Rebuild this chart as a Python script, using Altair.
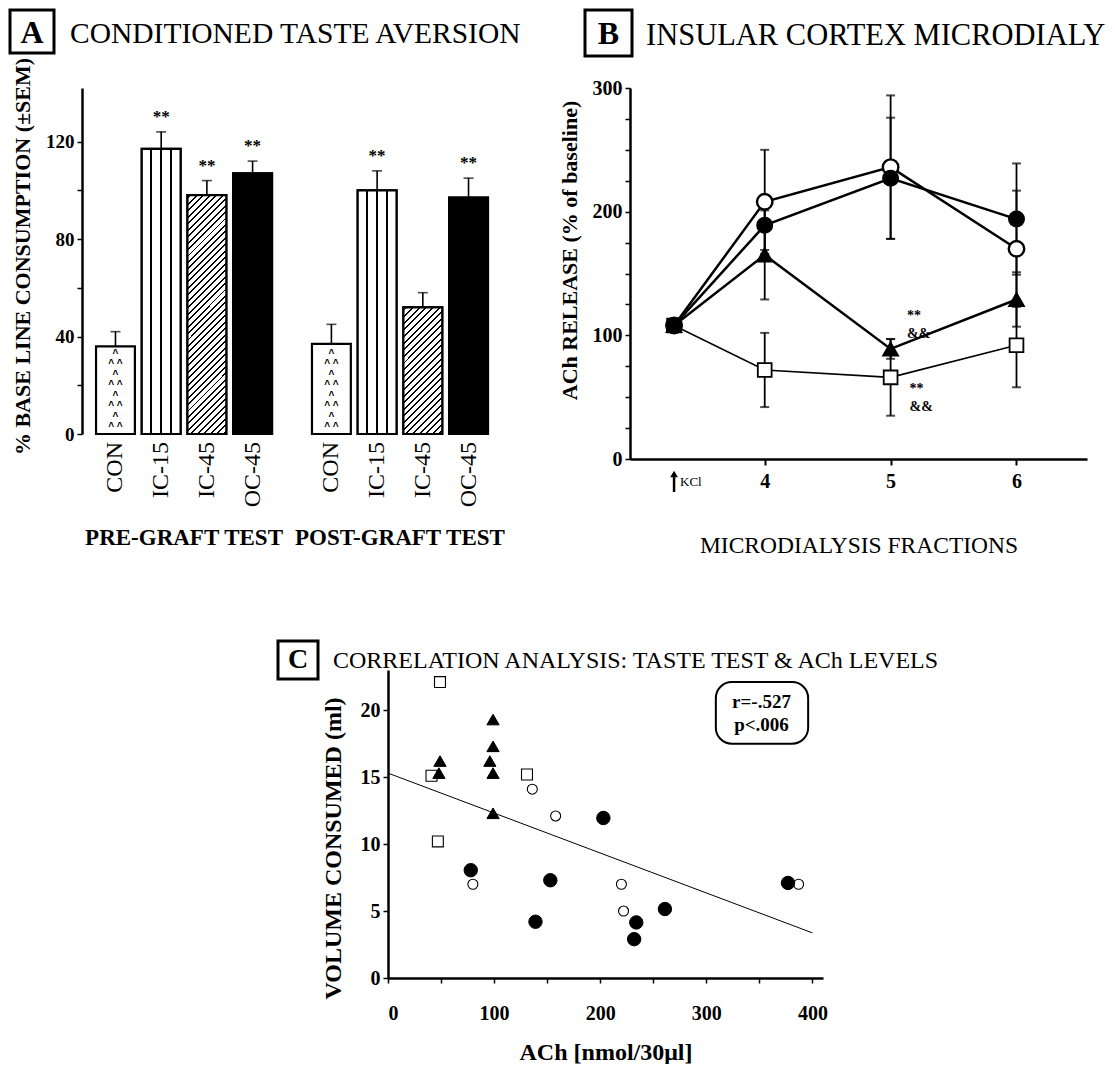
import altair as alt
import pandas as pd

SERIF = "Liberation Serif"
SANS = "Liberation Sans"

# ---------------- Panel A : conditioned taste aversion ----------------
a_tests = ["PRE-GRAFT TEST"] * 4 + ["POST-GRAFT TEST"] * 4
a_groups = ["CON", "IC-15", "IC-45", "OC-45"] * 2
a_values = [36, 117, 98, 107, 37, 100, 52, 97]
a_sem = [6, 7, 6, 5, 8, 8, 6, 8]
a_stars = ["", "**", "**", "**", "", "**", "", "**"]

# ---------------- Panel B : insular cortex microdialysis ----------------
b_fraction = [3.28, 4, 5, 6]          # first point = KCl baseline
b_open_circle = [108, 208, 236, 170]
b_open_circle_sem = [0, 42, 58, 47]
b_filled_circle = [108, 189, 227, 194]
b_filled_circle_sem = [0, 20, 49, 45]
b_triangle = [108, 165, 89, 129]
b_triangle_sem = [0, 36, 8, 22]
b_square = [108, 72, 66, 92]
b_square_sem = [0, 30, 31, 34]
b_note_x = [5.13, 5.13, 5.15, 5.15]
b_note_y = [116, 101, 57, 42]
b_note_text = ["**", "&&", "**", "&&"]

# ---------------- Panel C : correlation analysis ----------------
c_square_x = [49, 41, 47, 131]
c_square_y = [22.1, 15.1, 10.2, 15.2]
c_triangle_x = [49, 48, 99, 99, 96, 99, 99]
c_triangle_y = [16.2, 15.3, 19.3, 17.3, 16.2, 15.3, 12.3]
c_open_x = [136, 158, 80, 220, 222, 387]
c_open_y = [14.1, 12.1, 7.0, 7.0, 5.0, 7.0]
c_filled_x = [78, 203, 153, 139, 234, 232, 261, 377]
c_filled_y = [8.05, 11.95, 7.3, 4.2, 4.15, 2.9, 5.15, 7.1]
c_fit_x = [0, 400]
c_fit_y = [15.3, 3.37]
c_stats = ["r=-.527", "p<.006"]

GROUPS = ["CON", "IC-15", "IC-45", "OC-45"]
TESTS = ["PRE-GRAFT TEST", "POST-GRAFT TEST"]
one = pd.DataFrame({"k": [0]})


def box(x1, x2, y1, y2, w=3):
    return alt.Chart(one).mark_rect(filled=False, stroke="black", strokeWidth=w).encode(
        x=alt.value(x1), x2=alt.value(x2), y=alt.value(y1), y2=alt.value(y2))


def label(txt, x, y, size, weight="normal", align="left", baseline="alphabetic", limit=None):
    kw = dict(font=SERIF, fontSize=size, fontWeight=weight, align=align, baseline=baseline, color="black")
    if limit is not None:
        kw["limit"] = limit
        kw["ellipsis"] = "\u200b"
    return alt.Chart(pd.DataFrame({"t": [txt]})).mark_text(**kw).encode(
        x=alt.value(x), y=alt.value(y), text="t:N")


def vstripes(lines=(0.25, 0.5, 0.75), half=0.025):
    stops = []
    for c in lines:
        stops += [alt.GradientStop(color="white", offset=c - half),
                  alt.GradientStop(color="black", offset=c - half),
                  alt.GradientStop(color="black", offset=c + half),
                  alt.GradientStop(color="white", offset=c + half)]
    return alt.LinearGradient(gradient="linear", stops=stops, x1=0, y1=0, x2=1, y2=0)


def diag_stripes(w, h, period=6.5, frac=0.3):
    s = (w + h) * w / (w * w + h * h)
    n = max(1, int(round((w + h) / period)))
    stops = []
    for i in range(n):
        a = (i + 0.5 - frac / 2) / n
        b = (i + 0.5 + frac / 2) / n
        stops += [alt.GradientStop(color="white", offset=a),
                  alt.GradientStop(color="black", offset=a),
                  alt.GradientStop(color="black", offset=b),
                  alt.GradientStop(color="white", offset=b)]
    return alt.LinearGradient(gradient="linear", stops=stops, x1=0, y1=0, x2=s, y2=s * h / w)


# ======================= Panel A =======================
WA, HA, YMAX_A = 420, 346, 142
PX_A = HA / YMAX_A
BAR_W = 38.9

dfA = pd.DataFrame({"test": a_tests, "group": a_groups, "value": a_values,
                    "sem": a_sem, "stars": a_stars})
dfA["top"] = dfA["value"] + dfA["sem"]

xA = alt.X("test:N", sort=TESTS, scale=alt.Scale(paddingInner=0.185, paddingOuter=0.065),
           axis=alt.Axis(title=None, domain=False, ticks=False, tickSize=0, labelAngle=0,
                         labelPadding=92, labelFont=SERIF, labelFontSize=23,
                         labelFontWeight="bold", labelColor="black", labelLimit=0))
xoA = alt.XOffset("group:N", sort=GROUPS, scale=alt.Scale(paddingInner=0.15, paddingOuter=0))
yA_scale = alt.Scale(domain=[0, YMAX_A], nice=False)
yA_axis = alt.Axis(values=list(range(0, 121, 20)),
                   labelExpr="datum.value % 40 === 0 ? datum.label : ''",
                   title="% BASE LINE CONSUMPTION (±SEM)", titleFont=SERIF, titleFontSize=22,
                   titleFontWeight="bold", titlePadding=11, titleLimit=1000, titleColor="black",
                   titleY=168,
                   labelFont=SERIF, labelFontSize=19, labelFontWeight="bold",
                   labelColor="black", labelPadding=3, tickSize=5, tickWidth=1.5,
                   tickColor="black", domainColor="black", domainWidth=2.5, grid=False)


def yA(field):
    return alt.Y(field, scale=yA_scale, axis=yA_axis)


baseA = alt.Chart(dfA).encode(x=xA, xOffset=xoA)

barsA = baseA.mark_bar(fill="white", stroke="black", strokeWidth=2.2).encode(y=yA("value:Q"))
blackA = baseA.transform_filter(alt.datum.group == "OC-45").mark_bar(
    fill="black", stroke="black", strokeWidth=2.2).encode(y=yA("value:Q"))
ic15 = baseA.transform_filter(alt.datum.group == "IC-15").mark_bar(
    fill=vstripes(), stroke="black", strokeWidth=2.2).encode(y=yA("value:Q"))
layersA = [barsA, blackA, ic15]
for t, g, v in zip(a_tests, a_groups, a_values):
    if g == "IC-45":
        layersA.append(
            baseA.transform_filter((alt.datum.group == "IC-45") & (alt.datum.test == t)).mark_bar(
                fill=diag_stripes(BAR_W, v * PX_A), stroke="black", strokeWidth=2.2
            ).encode(y=yA("value:Q")))

caret_rows = []
for t, g, v in zip(a_tests, a_groups, a_values):
    if g == "CON":
        k, cy = 0, 2.8
        while cy < v - 2.5:
            caret_rows.append({"test": t, "group": g, "cy": cy,
                               "txt": "^    ^" if k % 2 == 0 else "^"})
            k += 1
            cy += 4.3
caretsA = alt.Chart(pd.DataFrame(caret_rows)).mark_text(
    font=SANS, fontSize=10, fontWeight="bold", baseline="middle", color="black").encode(
    x=xA, xOffset=xoA, y=yA("cy:Q"), text="txt:N")

rulesA = baseA.mark_rule(color="black", strokeWidth=1.6).encode(y=yA("value:Q"), y2="top:Q")
capsA = baseA.mark_tick(color="black", size=10, thickness=1.6).encode(y=yA("top:Q"))
starsA = baseA.transform_filter(alt.datum.stars != "").mark_text(
    font=SERIF, fontSize=17, fontWeight="bold", baseline="alphabetic", dy=-10, color="black").encode(
    y=yA("top:Q"), text="stars:N")
namesA = baseA.mark_text(angle=270, align="right", baseline="middle", font=SERIF,
                         fontSize=24, color="black").encode(y=alt.value(HA + 8), text="group:N")

panelA = alt.layer(
    *layersA, caretsA, rulesA, capsA, starsA, namesA,
    box(-72, -28, -78, -35),
    label("A", -50, -55, 32, "bold", "center", "middle"),
    label("CONDITIONED TASTE AVERSION", -12, -45, 29.5),
).properties(width=WA, height=HA)

# ======================= Panel B =======================
WB, HB = 457, 371
series_names = ["open circle", "filled circle", "triangle", "square"]
rows = []
for name, vals, sems in zip(series_names,
                            [b_open_circle, b_filled_circle, b_triangle, b_square],
                            [b_open_circle_sem, b_filled_circle_sem, b_triangle_sem, b_square_sem]):
    for f, v, s in zip(b_fraction, vals, sems):
        rows.append(dict(fraction=f, series=name, value=v, sem=s, lo=v - s, hi=v + s))
dfB = pd.DataFrame(rows)

xB_scale = alt.Scale(domain=[2.93, 6.56], nice=False, zero=False)
xB_axis = alt.Axis(values=[4, 5, 6], format="d", title="MICRODIALYSIS FRACTIONS",
                   titleFont=SERIF, titleFontSize=23.5, titleFontWeight="normal", titlePadding=42,
                   titleColor="black", labelFont=SERIF, labelFontSize=20, labelFontWeight="bold",
                   labelColor="black", labelPadding=6, tickSize=6, tickWidth=2, tickColor="black",
                   domainColor="black", domainWidth=2.5, grid=False)
yB_scale = alt.Scale(domain=[0, 300], nice=False)
yB_axis = alt.Axis(values=list(range(0, 301, 25)),
                   labelExpr="datum.value % 100 === 0 ? datum.label : ''",
                   title="ACh RELEASE (% of baseline)", titleFont=SERIF, titleFontSize=22,
                   titleFontWeight="bold", titlePadding=11, titleLimit=1000, titleColor="black",
                   titleY=162,
                   labelFont=SERIF, labelFontSize=20, labelFontWeight="bold", labelColor="black",
                   labelPadding=3, tickSize=5, tickWidth=1.5, tickColor="black",
                   domainColor="black", domainWidth=2.5, grid=False)


def xB(field="fraction:Q"):
    return alt.X(field, scale=xB_scale, axis=xB_axis)


def yB(field):
    return alt.Y(field, scale=yB_scale, axis=yB_axis)


baseB = alt.Chart(dfB).encode(x=xB())
linesB = baseB.transform_filter(alt.datum.series != "square").mark_line(
    color="black", strokeWidth=2.5).encode(y=yB("value:Q"), detail="series:N")
lineSqB = baseB.transform_filter(alt.datum.series == "square").mark_line(
    color="black", strokeWidth=1.6).encode(y=yB("value:Q"))
errB = baseB.transform_filter(alt.datum.sem > 0)
rulesB = errB.mark_rule(color="black", strokeWidth=1.8).encode(y=yB("lo:Q"), y2="hi:Q")
capLoB = errB.mark_tick(orient="horizontal", color="black", size=9, thickness=2).encode(y=yB("lo:Q"))
capHiB = errB.mark_tick(orient="horizontal", color="black", size=9, thickness=2).encode(y=yB("hi:Q"))

point_styles_B = [  # drawn in this order (last on top)
    ("square", "square", "white", 190, 1.8),
    ("triangle", "triangle-up", "black", 240, 1.5),
    ("open circle", "circle", "white", 240, 2.4),
    ("filled circle", "circle", "black", 240, 1.5),
]
pointsB = [
    baseB.transform_filter(alt.datum.series == name).mark_point(
        shape=shape, filled=True, fill=fill, stroke="black", strokeWidth=sw, size=size, opacity=1
    ).encode(y=yB("value:Q"))
    for name, shape, fill, size, sw in point_styles_B
]
notesB = alt.Chart(pd.DataFrame({"fraction": b_note_x, "value": b_note_y, "t": b_note_text})).mark_text(
    font=SERIF, fontSize=14, fontWeight="bold", align="left", baseline="middle", color="black").encode(
    x=xB(), y=yB("value:Q"), text="t:N")
kcl = alt.Chart(pd.DataFrame({"t": ["KCl"]}))
kclShaft = kcl.mark_rule(color="black", strokeWidth=2.5).encode(
    x=alt.datum(b_fraction[0]), y=alt.value(HB + 14), y2=alt.value(HB + 33))
kclHead = kcl.mark_point(shape="triangle-up", filled=True, color="black", size=60, opacity=1).encode(
    x=alt.datum(b_fraction[0]), y=alt.value(HB + 15))
kclText = kcl.mark_text(font=SERIF, fontSize=13, align="left", baseline="middle", dx=6, color="black").encode(
    x=alt.datum(b_fraction[0]), y=alt.value(HB + 23), text="t:N")

panelB = alt.layer(
    linesB, lineSqB, rulesB, capLoB, capHiB, *pointsB, notesB, kclShaft, kclHead, kclText,
    box(-45, 2, -78, -32),
    label("B", -21.5, -54, 32, "bold", "center", "middle"),
    label("INSULAR CORTEX MICRODIALYSIS", 16, -43, 30.5, limit=461),
).properties(width=WB, height=HB)

# ======================= Panel C =======================
WC, HC = 435, 308
kinds = ["square", "triangle", "open circle", "filled circle"]
crow = []
for kind, xs, ys in zip(kinds, [c_square_x, c_triangle_x, c_open_x, c_filled_x],
                        [c_square_y, c_triangle_y, c_open_y, c_filled_y]):
    for xv, yv in zip(xs, ys):
        crow.append(dict(ach=xv, vol=yv, kind=kind))
dfC = pd.DataFrame(crow)

xC_scale = alt.Scale(domain=[0, 410], nice=False)
xC_axis = alt.Axis(values=list(range(0, 401, 50)),
                   labelExpr="datum.value % 100 === 0 ? datum.label : ''",
                   title="ACh [nmol/30\u03bcl]", titleFont=SERIF, titleFontSize=24, titleFontWeight="bold",
                   titlePadding=17, titleColor="black", labelFont=SERIF, labelFontSize=20,
                   labelFontWeight="bold", labelColor="black", labelPadding=20, tickSize=5,
                   tickWidth=1.5, tickColor="black", domainColor="black", domainWidth=2.5, grid=False)
yC_scale = alt.Scale(domain=[0, 23], nice=False)
yC_axis = alt.Axis(values=[v * 2.5 for v in range(0, 10)],
                   labelExpr="datum.value % 5 === 0 ? datum.label : ''",
                   title="VOLUME CONSUMED  (ml)", titleFont=SERIF, titleFontSize=24, titleFontWeight="bold",
                   titlePadding=15, titleLimit=1000, titleColor="black", titleY=178, labelFont=SERIF,
                   labelFontSize=20, labelFontWeight="bold", labelColor="black", labelPadding=3,
                   tickSize=5, tickWidth=1.5, tickColor="black", domainColor="black",
                   domainWidth=2.5, grid=False)


def xC(field):
    return alt.X(field, scale=xC_scale, axis=xC_axis)


def yC(field):
    return alt.Y(field, scale=yC_scale, axis=yC_axis)


baseC = alt.Chart(dfC).encode(x=xC("ach:Q"), y=yC("vol:Q"))
point_styles_C = [
    ("square", "square", "white", 120, 1.1),
    ("triangle", "triangle-up", "black", 150, 1.0),
    ("open circle", "circle", "white", 100, 1.1),
    ("filled circle", "circle", "black", 180, 1.0),
]
pointsC = [
    baseC.transform_filter(alt.datum.kind == kind).mark_point(
        shape=shape, filled=True, fill=fill, stroke="black", strokeWidth=sw, size=size, opacity=1)
    for kind, shape, fill, size, sw in point_styles_C
]
fitC = alt.Chart(pd.DataFrame({"ach": c_fit_x, "vol": c_fit_y})).mark_line(
    color="black", strokeWidth=1).encode(x=xC("ach:Q"), y=yC("vol:Q"))
statBox = alt.Chart(one).mark_rect(filled=False, stroke="black", strokeWidth=2, cornerRadius=16).encode(
    x=alt.datum(309), x2=alt.datum(396), y=alt.datum(22.1), y2=alt.datum(17.5))
statText = alt.Chart(pd.DataFrame({"t": c_stats, "ypos": [20.6, 18.9]})).mark_text(
    font=SERIF, fontSize=19, fontWeight="bold", baseline="middle", color="black").encode(
    x=alt.datum(352), y=yC("ypos:Q"), text="t:N")

panelC = alt.layer(
    fitC, *pointsC, statBox, statText,
    box(-110, -70, -29, 9),
    label("C", -90, -10, 28, "bold", "center", "middle"),
    label("CORRELATION ANALYSIS: TASTE TEST & ACh LEVELS", -55, -2, 24),
).properties(width=WC, height=HC)

spacer = alt.Chart(one).mark_rule(strokeOpacity=0).encode(
    x=alt.value(0), x2=alt.value(1), y=alt.value(0), y2=alt.value(1)).properties(width=184, height=10)

top = alt.hconcat(panelA, panelB, spacing=35)
bottom = alt.hconcat(spacer, panelC, spacing=10)
chart = alt.vconcat(top, bottom, spacing=82).properties(padding=0).configure_view(stroke=None)

chart.save("out.html", embed_options={"renderer": "svg", "actions": False})
